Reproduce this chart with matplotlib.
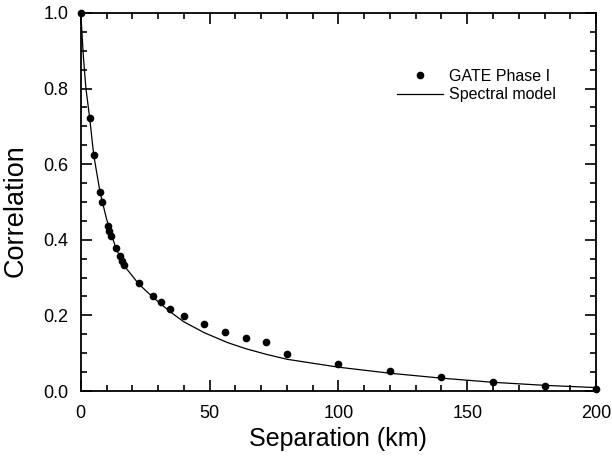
import numpy as np
import matplotlib.pyplot as plt
from matplotlib.ticker import MultipleLocator

plt.rcParams['font.family'] = ['Liberation Sans', 'DejaVu Sans']

# GATE Phase I correlation vs separation
sep_obs = [0, 3.5, 5.0, 7.4, 8.3, 10.4, 11.0, 11.6, 13.5, 15.1, 16.0, 16.8,
           22.5, 28.2, 31.3, 34.8, 40, 48, 56, 64, 72, 80, 100, 120, 140,
           160, 180, 200]
corr_obs = [1.0, 0.722, 0.624, 0.526, 0.50, 0.437, 0.423, 0.41, 0.378, 0.357,
            0.344, 0.333, 0.286, 0.251, 0.235, 0.217, 0.199, 0.178, 0.156,
            0.141, 0.129, 0.098, 0.071, 0.052, 0.036, 0.023, 0.013, 0.005]

# spectral model curve
sep_model = [0, 1, 2, 3.5, 5, 7.5, 10, 13.5, 17, 22.5, 28, 35, 40, 48, 57,
             64, 72, 80, 100, 120, 140, 160, 180, 200]
corr_model = [1.0, 0.885, 0.80, 0.72, 0.625, 0.525, 0.455, 0.38, 0.33, 0.283,
              0.248, 0.208, 0.183, 0.154, 0.128, 0.112, 0.097, 0.084, 0.063,
              0.047, 0.034, 0.023, 0.015, 0.009]

fig = plt.figure(figsize=(6.12, 4.63), dpi=100)
ax = fig.add_axes([0.132, 0.1555, 0.842, 0.8165])

ax.plot(sep_obs, corr_obs, 'o', color='black', markersize=4.5,
        clip_on=False, zorder=3, label='GATE Phase I')
ax.plot(sep_model, corr_model, '-', color='black', linewidth=0.9,
        label='Spectral model')

ax.set_xlim(0, 200)
ax.set_ylim(0, 1.0)
ax.xaxis.set_major_locator(MultipleLocator(50))
ax.xaxis.set_minor_locator(MultipleLocator(10))
ax.yaxis.set_major_locator(MultipleLocator(0.2))
ax.yaxis.set_minor_locator(MultipleLocator(0.05))
ax.yaxis.set_major_formatter(plt.FormatStrFormatter('%.1f'))
ax.tick_params(which='both', direction='in', top=True, right=True, width=1.2,
               labelsize=13)
ax.tick_params(axis='x', pad=10)
ax.tick_params(axis='y', pad=9)
ax.tick_params(which='major', length=8)
ax.tick_params(which='minor', length=4.5)
for s in ax.spines.values():
    s.set_linewidth(1.3)

ax.set_xlabel('Separation (km)', fontsize=18, labelpad=3.5)
ax.set_ylabel('Correlation', fontsize=19.5)
ax.yaxis.set_label_coords(-0.101, 0.476)

ax.legend(loc='upper left', bbox_to_anchor=(0.613, 0.852), frameon=False,
          fontsize=11.5, handlelength=2.9, handletextpad=0.37,
          labelspacing=0.22, borderpad=0, borderaxespad=0)

plt.savefig('out.png', dpi=100)
